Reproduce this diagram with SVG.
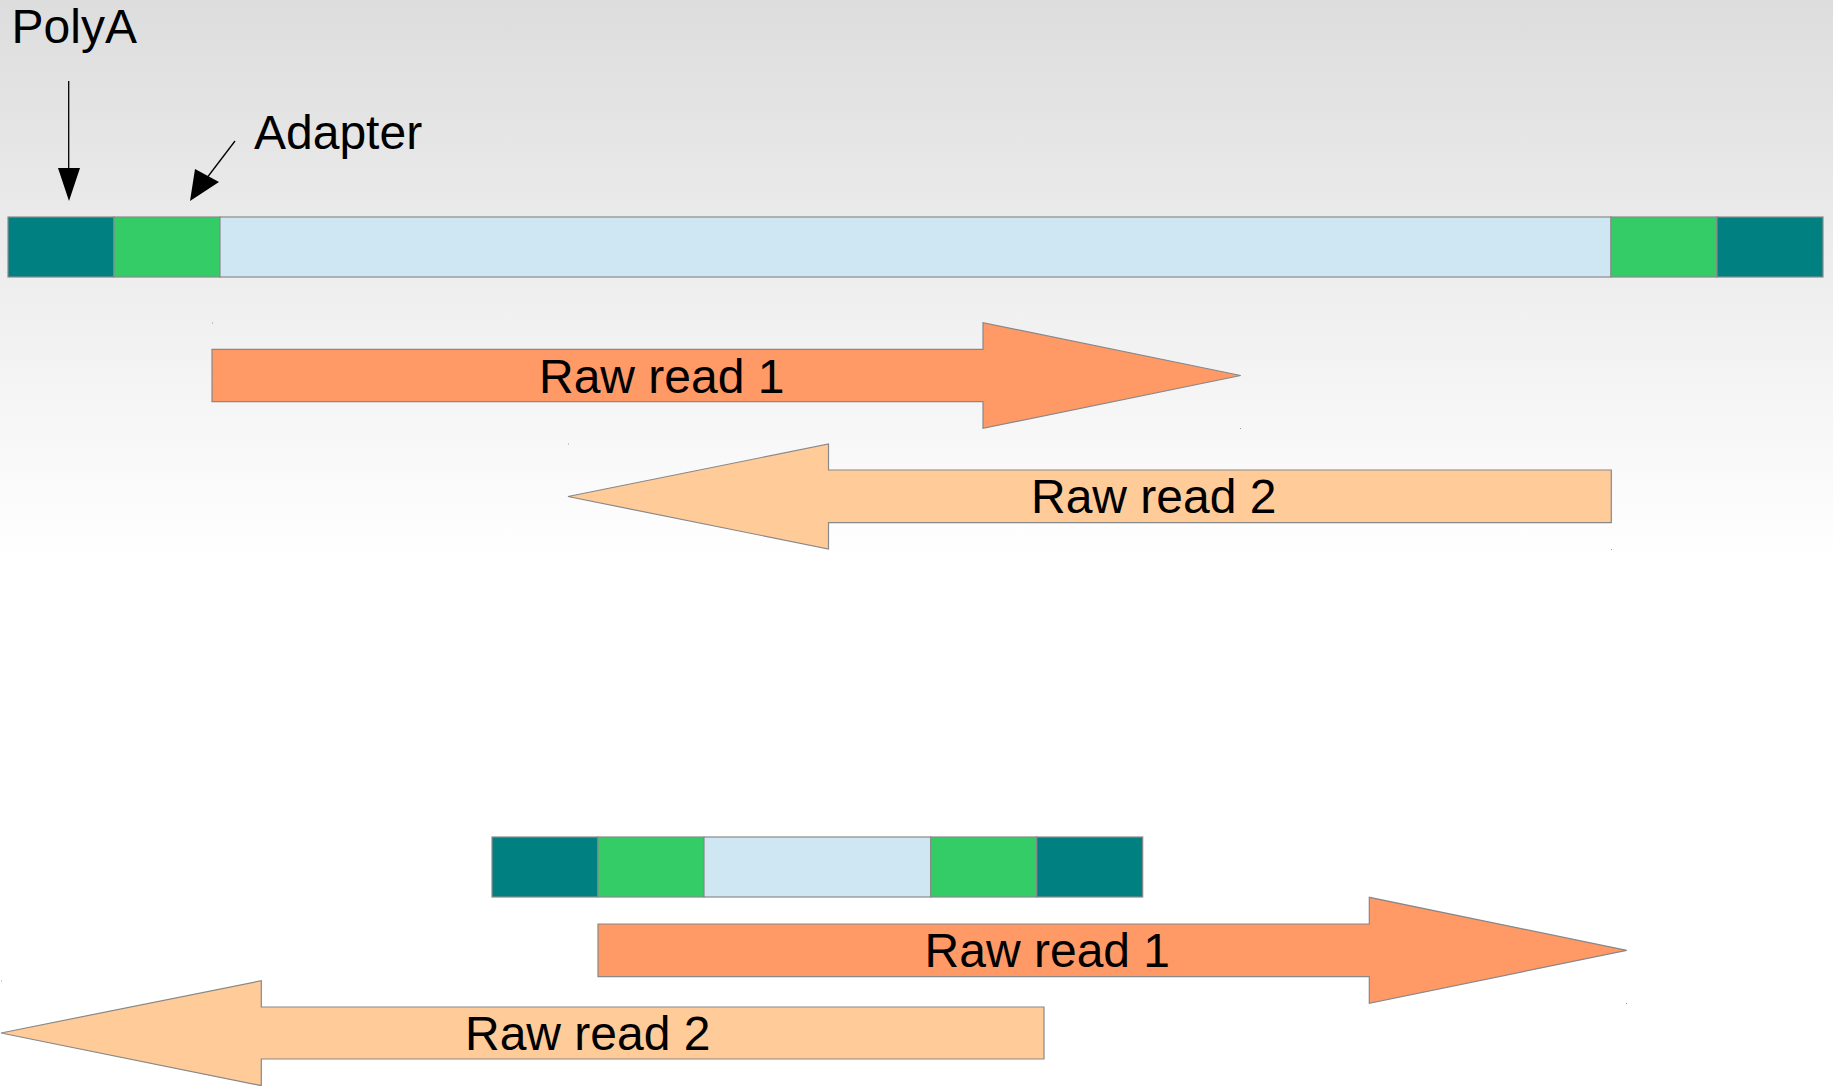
<svg xmlns="http://www.w3.org/2000/svg" width="1833" height="1086" viewBox="0 0 1833 1086">
  <defs>
    <linearGradient id="bgGrad" x1="0" y1="0" x2="0" y2="1">
      <stop offset="0" stop-color="#dddddd"/>
      <stop offset="1" stop-color="#ffffff"/>
    </linearGradient>
  </defs>
  <style>
    .seg { stroke: #8a8a8a; stroke-width: 1.2; }
    .polya { fill: #008080; }
    .adapter { fill: #33cc66; }
    .insert { fill: #cfe6f3; }
    .read1 { fill: #ff9966; stroke: #888888; stroke-width: 1.2; }
    .read2 { fill: #ffcc99; stroke: #888888; stroke-width: 1.2; }
    .lbl { font-family: "Liberation Sans", Arial, sans-serif; font-size: 48px; fill: #000; }
    .speck { fill: #9a9a9a; }
    .lead { stroke: #000; stroke-width: 1.3; fill: none; }
    .head { fill: #000; }
  </style>

  <!-- page background -->
  <rect x="0" y="0" width="1833" height="1086" fill="#ffffff"/>
  <rect x="0" y="0" width="1833" height="560" fill="url(#bgGrad)"/>

  <!-- long fragment -->
  <g id="fragment-long">
    <rect class="seg polya" x="8" y="217" width="106" height="60"/>
    <rect class="seg adapter" x="114" y="217" width="106" height="60"/>
    <rect class="seg insert" x="220" y="217" width="1391" height="60"/>
    <rect class="seg adapter" x="1611" y="217" width="106" height="60"/>
    <rect class="seg polya" x="1717" y="217" width="106" height="60"/>
  </g>

  <!-- labels -->
  <g id="label-polya">
    <text class="lbl" x="11.5" y="43">PolyA</text>
  </g>
  <g id="label-adapter">
    <text class="lbl" x="254" y="149">Adapter</text>
  </g>

  <!-- leader arrows -->
  <g id="connectors">
    <line class="lead" x1="68.7" y1="81" x2="68.7" y2="170"/>
    <path class="head" d="M58,168 L80,168 L69,201 Z"/>
    <line class="lead" x1="235" y1="141" x2="200" y2="187"/>
    <path class="head" d="M190,201 L195,169 L219,182 Z"/>
  </g>

  <!-- reads over the long fragment -->
  <g id="read1-long">
    <path class="read1" d="M212,349.3 H983 V322.7 L1240.7,375.5 L983,428.3 V401.7 H212 Z"/>
    <text class="lbl" x="539" y="393">Raw read 1</text>
  </g>
  <g id="read2-long">
    <path class="read2" d="M1611.3,470 H828.5 V444 L568,496.5 L828.5,549 V522.7 H1611.3 Z"/>
    <text class="lbl" x="1031" y="512.5">Raw read 2</text>
  </g>

  <!-- short fragment -->
  <g id="fragment-short">
    <rect class="seg polya" x="492" y="837" width="106" height="60"/>
    <rect class="seg adapter" x="598" y="837" width="106" height="60"/>
    <rect class="seg insert" x="704" y="837" width="226.7" height="60"/>
    <rect class="seg adapter" x="930.7" y="837" width="106" height="60"/>
    <rect class="seg polya" x="1036.7" y="837" width="106" height="60"/>
  </g>

  <!-- reads over the short fragment -->
  <g id="read1-short">
    <path class="read1" d="M598,924 H1369.3 V897.3 L1626.7,950.3 L1369.3,1003.3 V976.7 H598 Z"/>
    <text class="lbl" x="924.6" y="966.8">Raw read 1</text>
  </g>
  <g id="read2-short">
    <path class="read2" d="M1044,1007 H261.3 V980.7 L1,1033 L261.3,1085.7 V1059 H1044 Z"/>
    <text class="lbl" x="465" y="1049.5">Raw read 2</text>
  </g>

  <!-- bounding-box corner specks left by the shapes -->
  <g id="specks">
    <rect class="speck" x="212" y="322.5" width="1" height="1"/>
    <rect class="speck" x="1240" y="428" width="1" height="1"/>
    <rect class="speck" x="568" y="443.5" width="1" height="1"/>
    <rect class="speck" x="1611" y="549" width="1" height="1"/>
    <rect class="speck" x="1626" y="1003" width="1" height="1"/>
    <rect class="speck" x="1" y="980.5" width="1" height="1"/>
  </g>
</svg>
